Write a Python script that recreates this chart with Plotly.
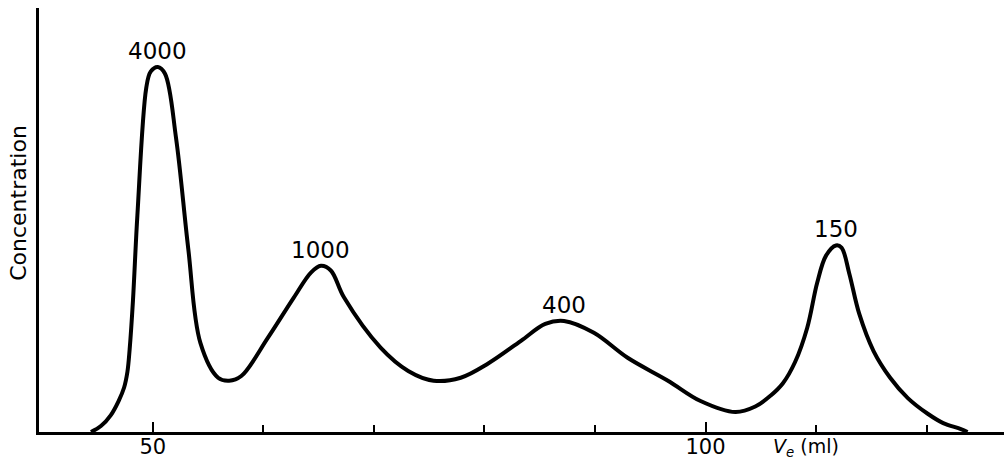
import numpy as np
import plotly.graph_objects as go

# Elution volume (ml) and concentration (arbitrary units)
ve_ml = [44.4, 45.3, 46.2, 46.9, 47.4, 47.7, 47.9, 48.2, 48.6, 49.4, 49.8, 50.45,
         51.1, 52.1, 53.2, 54.3, 55.9, 56.9, 58.0,
         60.4, 62.75, 64.3, 65.2, 66.1, 67.3, 70.6, 73.1, 75.4, 77.85, 80.3, 83.3, 85.5,
         87.2, 89.9, 92.95, 96.6, 99.55, 102.7, 104.5, 105.9, 107.0, 108.1, 109.2, 110.1,
         110.9, 111.8, 112.3, 113.0, 113.9, 115.2, 116.7, 118.3, 120.1,
         121.5, 123.1, 123.7]
concentration = [0.0, 1.4, 4.0, 7.3, 10.5, 14.2, 19.5, 31.0, 51.1, 81.1, 85.0, 86.1,
                 84.5, 69.3, 43.3, 21.0, 12.8, 12.1, 13.2,
                 22.2, 31.7, 37.6, 39.2, 38.1, 31.7, 19.9, 14.4, 12.1, 12.8, 16.1, 21.5, 25.5,
                 26.2, 23.4, 17.5, 12.1, 7.3, 4.7, 6.0, 8.6, 11.5, 16.5, 24.6, 35.2,
                 41.6, 44.0, 43.5, 37.4, 27.9, 19.1, 12.8, 8.0, 4.3,
                 2.1, 0.7, 0.0]

# Molecular-weight labels of the peaks, left to right
peak_labels = ["4000", "1000", "400", "150"]

x_major_ticks = [50, 100]
x_tick_labels = ["50", "100"]
x_minor_ticks = [60, 70, 80, 90, 110, 120]

FONT = "DejaVu Sans"

fig = go.Figure()
fig.add_trace(go.Scatter(
    x=ve_ml, y=concentration, mode="lines",
    line=dict(color="black", width=4, shape="spline", smoothing=1.0),
    hoverinfo="skip", showlegend=False,
))

c = np.array(concentration)
peaks = [i for i in range(1, len(c) - 1) if c[i] > c[i - 1] and c[i] >= c[i + 1]]
for lab, i in zip(peak_labels, peaks):
    fig.add_annotation(x=ve_ml[i], y=concentration[i], text=lab, showarrow=False,
                       yanchor="bottom", yshift=1,
                       font=dict(family=FONT, size=23, color="black"))

fig.add_annotation(x=0.795, xref="paper", y=-0.002, yref="paper",
                   text="<i>V<sub>e</sub></i> (ml)", showarrow=False,
                   xanchor="center", yanchor="top",
                   font=dict(family=FONT, size=19, color="black"))
fig.add_annotation(x=-0.022, xref="paper", y=0.54, yref="paper",
                   text="Concentration", textangle=-90, showarrow=False,
                   xanchor="center", yanchor="middle",
                   font=dict(family=FONT, size=22, color="black"))

fig.update_xaxes(
    range=[39.7, 127.0], showgrid=False, zeroline=False,
    showline=True, linecolor="black", linewidth=3,
    tickmode="array", tickvals=x_major_ticks, ticktext=x_tick_labels,
    ticks="inside", ticklen=10, tickwidth=2, tickcolor="black",
    ticklabelstandoff=-6,
    tickfont=dict(family=FONT, size=21, color="black"),
    minor=dict(tickmode="array", tickvals=x_minor_ticks, ticks="inside", ticklen=7,
               tickwidth=2, tickcolor="black", showgrid=False),
)
fig.update_yaxes(
    range=[0, 100], showgrid=False, zeroline=False, showticklabels=False,
    showline=True, linecolor="black", linewidth=3, ticks="",
)
fig.update_layout(
    width=1004, height=459,
    margin=dict(l=39, r=0, t=8, b=27),
    paper_bgcolor="white", plot_bgcolor="white",
)
fig.write_html("out.html")
